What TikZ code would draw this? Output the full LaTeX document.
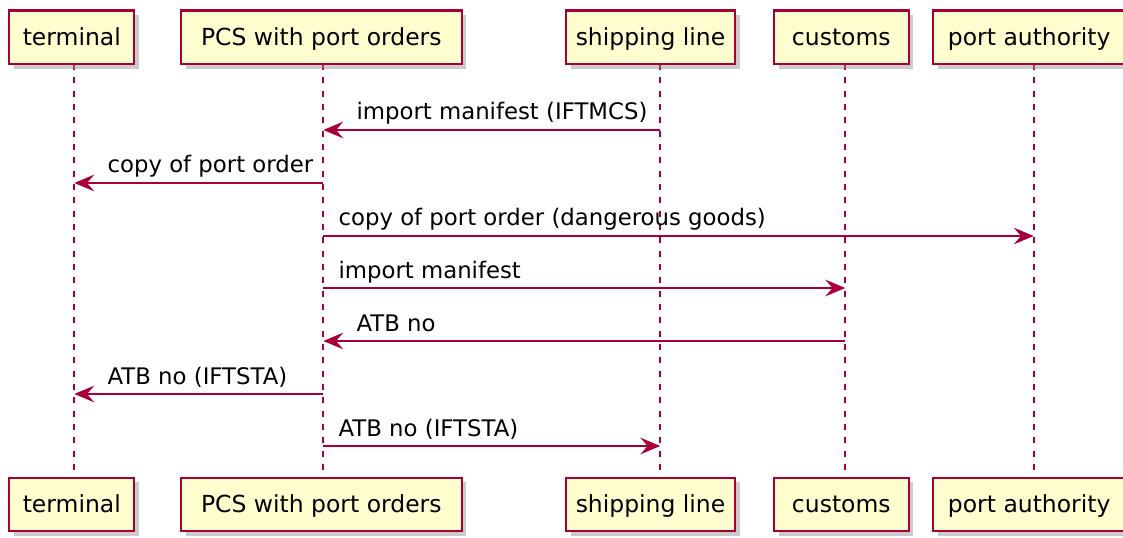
\documentclass[tikz,border=0pt]{standalone}
\usepackage{fontspec}
\setmainfont{DejaVu Sans}
\usetikzlibrary{arrows.meta, shadows}
\definecolor{umlred}{HTML}{A80036}
\definecolor{umlfill}{HTML}{FEFECE}
\tikzset{
  actor/.style={draw=umlred, fill=umlfill, line width=1.6pt, inner xsep=0pt, inner ysep=0pt,
    text height=26.25pt, text depth=13.9pt,
    font=\fontsize{17.6}{20}\selectfont,
    drop shadow={shadow xshift=3.5pt, shadow yshift=-3.5pt, fill=black!45, opacity=.45}},
  life/.style={umlred, line width=1.3pt, dash pattern=on 4.5pt off 5.5pt},
  msg/.style={umlred, line width=1.2pt, -{Stealth[length=15pt, width=12.5pt, inset=5.5pt]}},
  lbl/.style={anchor=base west, inner sep=0pt, font=\fontsize{17.1}{20}\selectfont}
}
\begin{document}
\begin{tikzpicture}[x=0.75pt, y=-0.75pt]
  %tikz  port orders, import
  \useasboundingbox (0,0) rectangle (1123,538);
  \foreach \n/\x/\c/\w/\t in {term/74.3/71.8/125/terminal, pcs/323.3/321.3/280.7/PCS with port orders,
      ship/660.3/650.5/169/shipping line, cust/845.3/841.3/134.7/customs, port/1033.7/1029.2/191.7/port authority}{
    \coordinate (\n-a) at (\x,64);
    \coordinate (\n-b) at (\x,477.3);
    \draw[life] (\n-a) -- (\n-b);
    \node[actor, minimum width=\w*0.75pt] (\n-top) at (\c,37.3) {\t};
    \node[actor, minimum width=\w*0.75pt] (\n-bot) at (\c,504.5) {\t};
    \foreach \k/\y in {1/130, 2/183, 3/236, 4/288, 5/341, 6/394, 7/446}{
      \coordinate (\n-\k) at (\x,\y);
    }
  }
  \draw[msg] (ship-1) -- (pcs-1);
  \node[lbl] (m1) at ([shift={(33,-10)}]pcs-1) {import manifest (IFTMCS)};
  \draw[msg] (pcs-2) -- (term-2);
  \node[lbl] (m2) at ([shift={(33,-10)}]term-2) {copy of port order};
  \draw[msg] (pcs-3) -- (port-3);
  \node[lbl] (m3) at ([shift={(15,-10)}]pcs-3) {copy of port order (dangerous goods)};
  \draw[msg] (pcs-4) -- (cust-4);
  \node[lbl] (m4) at ([shift={(15,-10)}]pcs-4) {import manifest};
  \draw[msg] (cust-5) -- (pcs-5);
  \node[lbl] (m5) at ([shift={(33,-10)}]pcs-5) {ATB no};
  \draw[msg] (pcs-6) -- (term-6);
  \node[lbl] (m6) at ([shift={(33,-10)}]term-6) {ATB no (IFTSTA)};
  \draw[msg] (pcs-7) -- (ship-7);
  \node[lbl] (m7) at ([shift={(15,-10)}]pcs-7) {ATB no (IFTSTA)};
\end{tikzpicture}
\end{document}
